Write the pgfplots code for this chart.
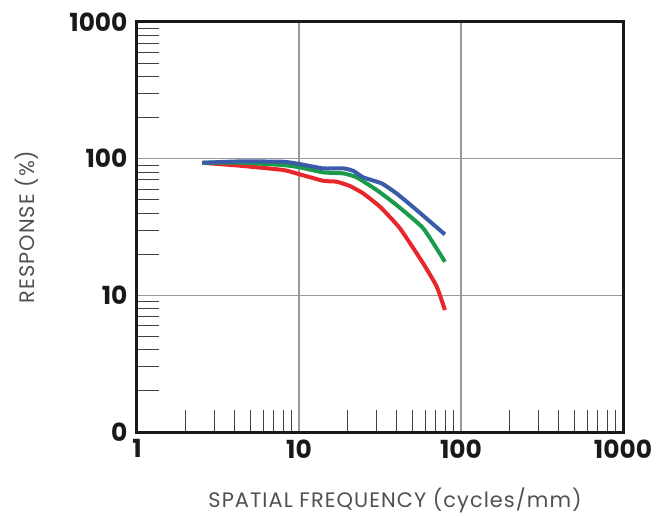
\documentclass[border=0pt]{standalone}
\usepackage{fontspec}
\setmainfont{Poppins}
\usepackage{pgfplots}
\pgfplotsset{compat=1.18}
\definecolor{cblue}{HTML}{3A5BA8}
\definecolor{cgreen}{HTML}{1A9A4A}
\definecolor{cred}{HTML}{E8262B}
\definecolor{labgray}{HTML}{505050}
\begin{document}
\begin{tikzpicture}[x=1bp,y=1bp]
\begin{axis}[
  at={(0,0)}, anchor=south west,
  scale only axis, width=486bp, height=410bp,
  xmode=log, ymode=log,
  xmin=1, xmax=1000, ymin=1, ymax=1000,
  xtick={1,10,100,1000}, xticklabels={1,10,100,1000},
  ytick={1,10,100,1000}, yticklabels={0,10,100,1000},
  minor xtick={2,3,4,5,6,7,8,9,20,30,40,50,60,70,80,90,200,300,400,500,600,700,800,900},
  minor ytick={2,3,4,5,6,7,8,9,20,30,40,50,60,70,80,90,200,300,400,500,600,700,800,900},
  xtick pos=left, ytick pos=left,
  tick align=inside,
  major tick length=0pt,
  minor tick length=22bp,
  every minor tick/.style={black!75, line width=0.8bp},
  grid=major,
  major grid style={gray!80, line width=1.1bp},
  axis line style={line width=3bp, black!90},
  ticklabel style={font=\fontsize{25}{25}\selectfont\bfseries, text=black!90},
  xticklabel style={yshift=-4bp},
  yticklabel style={xshift=-6bp},
  /pgf/number format/assume math mode=true,
  xlabel={SPATIAL FREQUENCY (cycles/mm)},
  ylabel={RESPONSE (\%)},
  label style={font=\fontsize{21}{21}\selectfont\addfontfeature{LetterSpace=5}, text=labgray},
  xlabel style={at={(rel axis cs:0.531,-0.166)}, anchor=center},
  ylabel style={at={(rel axis cs:-0.226,0.5)}, anchor=center},
  clip=true,
]
\addplot[cred, line width=4bp, line join=round, smooth, tension=0.3] coordinates {
(2.53,93.3) (4.32,88.8) (8.0,82.6) (10.1,76.8) (14.1,68.9) (17.1,67.8) (20.6,63.1) (24.9,55.7) (31.6,44.5) (42.0,30.9) (58.5,17.1) (70.8,11.6) (79.6,7.8)
};
\addplot[cgreen, line width=4bp, line join=round, smooth, tension=0.3] coordinates {
(2.53,93.3) (4.32,93.5) (8.0,89.8) (10.1,86.4) (14.1,79.4) (18.8,78.0) (22.7,73.0) (30.2,58.9) (40.0,45.8) (58.5,30.9) (79.6,17.6)
};
\addplot[cblue, line width=4bp, line join=round, smooth, tension=0.3] coordinates {
(2.53,93.3) (4.32,95.5) (8.0,94.9) (10.1,91.3) (14.1,84.9) (18.8,84.9) (21.6,81.5) (24.9,73.0) (32.4,65.9) (40.0,55.7) (53.2,42.1) (79.6,27.9)
};
\end{axis}
\pgfresetboundingbox
\path (-137bp,-84bp) rectangle (530bp,432bp);
\end{tikzpicture}
\end{document}
